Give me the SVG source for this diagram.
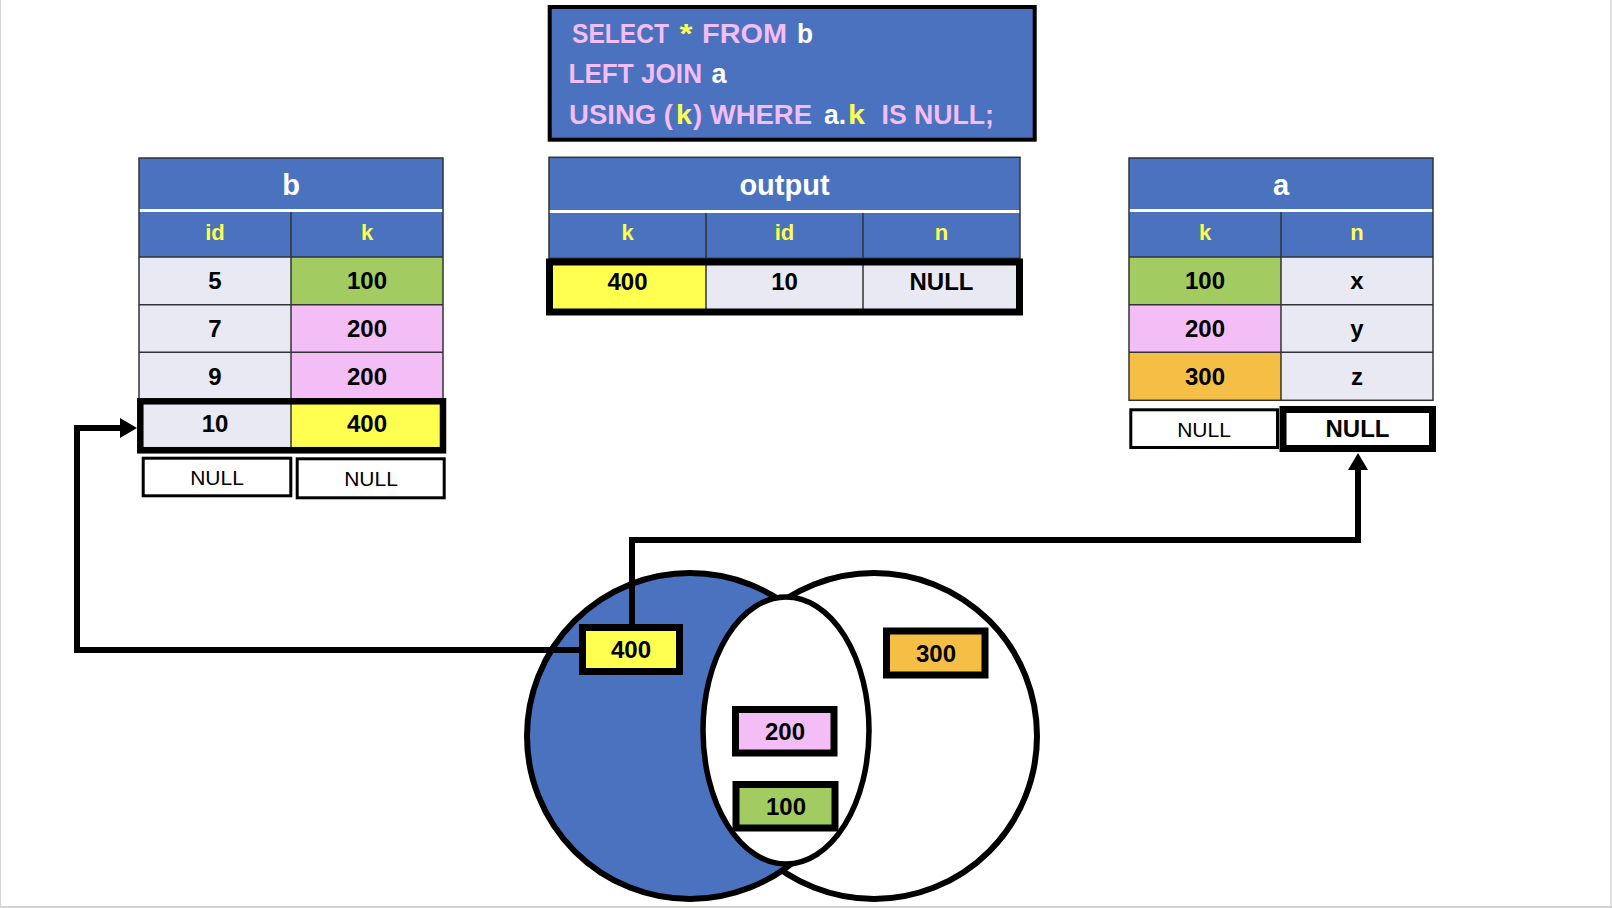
<svg xmlns="http://www.w3.org/2000/svg" width="1612" height="908" viewBox="0 0 1612 908">
<style>
.bg{fill:#FFFFFF}
.blue{fill:#4A72BF}
.cellL{fill:#E8E9F3}
.green{fill:#A2CB62}
.pink{fill:#F3BDF5}
.yel{fill:#FFFF50}
.org{fill:#F5BF45}
.grid{fill:none;stroke:#333333;stroke-width:1.5}
.wline{stroke:#FFFFFF;stroke-width:3}
.t{font-family:"Liberation Sans",Arial,sans-serif;font-weight:bold;text-anchor:middle}
.title{font-size:29px;fill:#FFFFFF}
.hdr{font-size:22px;fill:#FFFF50}
.val{font-size:24px;fill:#000000}
.nul{font-family:"Liberation Sans",Arial,sans-serif;font-size:21px;text-anchor:middle;fill:#000000}
.thick{fill:none;stroke:#000000;stroke-width:6.5}
.thin{fill:#FFFFFF;stroke:#000000;stroke-width:3}
.sql{font-family:"Liberation Sans",Arial,sans-serif;font-weight:bold;font-size:27px}
.pk{fill:#F3BDF5}
.yw{fill:#FFFF50}
.wh{fill:#FFFFFF}
.conn{fill:none;stroke:#000000;stroke-width:6;stroke-linejoin:miter}
.vbox{stroke:#000000;stroke-width:7}
</style>
<defs>
<marker id="arr" viewBox="0 0 17 20" refX="0.5" refY="10" markerWidth="17" markerHeight="20" markerUnits="userSpaceOnUse" orient="auto">
<path d="M0,0 L17,10 L0,20 z" fill="#000000"/>
</marker>
</defs>
<rect class="bg" x="0" y="0" width="1612" height="908"/>
<line x1="0.5" y1="0" x2="0.5" y2="908" stroke="#D4D4D4" stroke-width="1"/>
<line x1="1611" y1="0" x2="1611" y2="908" stroke="#D4D4D4" stroke-width="1.5"/>
<line x1="0" y1="907" x2="1612" y2="907" stroke="#D4D4D4" stroke-width="2"/>

<g id="sql">
<rect x="549.7" y="7" width="485" height="132.7" fill="#4A72BF" stroke="#000000" stroke-width="4"/>
<text class="sql pk" x="572" y="43" textLength="97" lengthAdjust="spacingAndGlyphs">SELECT</text>
<text class="sql yw" x="679.5" y="43" textLength="13" lengthAdjust="spacingAndGlyphs">*</text>
<text class="sql pk" x="702" y="43" textLength="85" lengthAdjust="spacingAndGlyphs">FROM</text>
<text class="sql wh" x="797" y="43" textLength="16" lengthAdjust="spacingAndGlyphs">b</text>
<text class="sql pk" x="568.5" y="83" textLength="133.5" lengthAdjust="spacingAndGlyphs">LEFT JOIN</text>
<text class="sql wh" x="711.5" y="83" textLength="15" lengthAdjust="spacingAndGlyphs">a</text>
<text class="sql pk" x="569" y="124" textLength="104" lengthAdjust="spacingAndGlyphs">USING (</text>
<text class="sql yw" x="676" y="124" textLength="16" lengthAdjust="spacingAndGlyphs">k</text>
<text class="sql pk" x="693" y="124" textLength="119" lengthAdjust="spacingAndGlyphs">) WHERE</text>
<text class="sql wh" x="824" y="124" textLength="22" lengthAdjust="spacingAndGlyphs">a.</text>
<text class="sql yw" x="848" y="124" textLength="17" lengthAdjust="spacingAndGlyphs">k</text>
<text class="sql pk" x="881.5" y="124" textLength="112.5" lengthAdjust="spacingAndGlyphs">IS NULL;</text>
</g>

<g id="table-b">
<rect class="blue" x="139" y="158" width="304" height="99"/>
<line class="wline" x1="139" y1="210.5" x2="443" y2="210.5"/>
<rect class="cellL" x="139" y="257" width="152" height="190.7"/>
<rect class="green" x="291" y="257" width="152" height="47.7"/>
<rect class="pink" x="291" y="304.7" width="152" height="95.3"/>
<rect class="yel" x="291" y="400" width="152" height="47.7"/>
<rect class="grid" x="139" y="158" width="304" height="289.7"/>
<line class="grid" x1="291" y1="212" x2="291" y2="447.7"/>
<line class="grid" x1="139" y1="257" x2="443" y2="257"/>
<line class="grid" x1="139" y1="304.7" x2="443" y2="304.7"/>
<line class="grid" x1="139" y1="352.3" x2="443" y2="352.3"/>
<line class="grid" x1="139" y1="400" x2="443" y2="400"/>
<text class="t title" x="291" y="195">b</text>
<text class="t hdr" x="215" y="240">id</text>
<text class="t hdr" x="367" y="240">k</text>
<text class="t val" x="215" y="289">5</text>
<text class="t val" x="367" y="289">100</text>
<text class="t val" x="215" y="337">7</text>
<text class="t val" x="367" y="337">200</text>
<text class="t val" x="215" y="384.5">9</text>
<text class="t val" x="367" y="384.5">200</text>
<text class="t val" x="215" y="432">10</text>
<text class="t val" x="367" y="432">400</text>
<rect class="thick" x="140.3" y="401.3" width="302.7" height="49"/>
<rect class="thin" x="143.2" y="458.2" width="147.6" height="37.6"/>
<rect class="thin" x="297.2" y="458.8" width="147" height="39"/>
<text class="nul" x="217" y="485">NULL</text>
<text class="nul" x="371" y="486">NULL</text>
</g>

<g id="table-output">
<rect class="blue" x="549" y="157.3" width="471" height="101"/>
<line class="wline" x1="549" y1="211.5" x2="1020" y2="211.5"/>
<rect class="yel" x="549" y="258.3" width="157" height="54"/>
<rect class="cellL" x="706" y="258.3" width="314" height="54"/>
<rect class="grid" x="549" y="157.3" width="471" height="101"/>
<line class="grid" x1="706" y1="213" x2="706" y2="312"/>
<line class="grid" x1="863" y1="213" x2="863" y2="312"/>
<text class="t title" x="784.5" y="195">output</text>
<text class="t hdr" x="627.5" y="240">k</text>
<text class="t hdr" x="784.5" y="240">id</text>
<text class="t hdr" x="941.5" y="240">n</text>
<text class="t val" x="627.5" y="290">400</text>
<text class="t val" x="784.5" y="290">10</text>
<text class="t val" x="941.5" y="290">NULL</text>
<rect x="549.5" y="262" width="470" height="50" fill="none" stroke="#000000" stroke-width="7"/>
</g>

<g id="table-a">
<rect class="blue" x="1129" y="158" width="304" height="99"/>
<line class="wline" x1="1129" y1="210.5" x2="1433" y2="210.5"/>
<rect class="green" x="1129" y="257" width="152" height="47.7"/>
<rect class="pink" x="1129" y="304.7" width="152" height="47.6"/>
<rect class="org" x="1129" y="352.3" width="152" height="48"/>
<rect class="cellL" x="1281" y="257" width="152" height="143.3"/>
<rect class="grid" x="1129" y="158" width="304" height="242.3"/>
<line class="grid" x1="1281" y1="212" x2="1281" y2="400.3"/>
<line class="grid" x1="1129" y1="257" x2="1433" y2="257"/>
<line class="grid" x1="1129" y1="304.7" x2="1433" y2="304.7"/>
<line class="grid" x1="1129" y1="352.3" x2="1433" y2="352.3"/>
<text class="t title" x="1281" y="195">a</text>
<text class="t hdr" x="1205" y="240">k</text>
<text class="t hdr" x="1357" y="240">n</text>
<text class="t val" x="1205" y="289">100</text>
<text class="t val" x="1357" y="289">x</text>
<text class="t val" x="1205" y="337">200</text>
<text class="t val" x="1357" y="337">y</text>
<text class="t val" x="1205" y="384.5">300</text>
<text class="t val" x="1357" y="384.5">z</text>
<rect class="thin" x="1130.8" y="409.8" width="146.7" height="37.7"/>
<text class="nul" x="1204" y="436.5">NULL</text>
<rect x="1283" y="409.5" width="149.5" height="39" fill="#FFFFFF" stroke="#000000" stroke-width="7"/>
<text class="t val" x="1357.5" y="436.5">NULL</text>
</g>

<g id="venn">
<circle cx="874" cy="736" r="163" fill="#FFFFFF" stroke="#000000" stroke-width="6"/>
<circle cx="690" cy="736" r="163" fill="#4A72BF" stroke="#000000" stroke-width="6"/>
<ellipse cx="786" cy="730.5" rx="83" ry="133.5" fill="#FFFFFF" stroke="#000000" stroke-width="5.5"/>
</g>

<g id="connectors">
<polyline class="conn" points="579,650 77,650 77,428 120.5,428" marker-end="url(#arr)"/>
<polyline class="conn" points="632,624 632,540 1358,540 1358,469.5" marker-end="url(#arr)"/>
</g>

<g id="v400">
<rect class="vbox yel" x="582.5" y="627.5" width="97" height="44"/>
<text class="t val" x="631" y="658">400</text>
</g>
<g id="v300">
<rect class="vbox org" x="886.5" y="631" width="98.5" height="44"/>
<text class="t val" x="936" y="661.5">300</text>
</g>
<g id="v200">
<rect class="vbox pink" x="735.5" y="709.5" width="98.5" height="43.5"/>
<text class="t val" x="785" y="740">200</text>
</g>
<g id="v100">
<rect class="vbox green" x="736" y="784.5" width="99" height="43.5"/>
<text class="t val" x="786" y="815">100</text>
</g>
</svg>
